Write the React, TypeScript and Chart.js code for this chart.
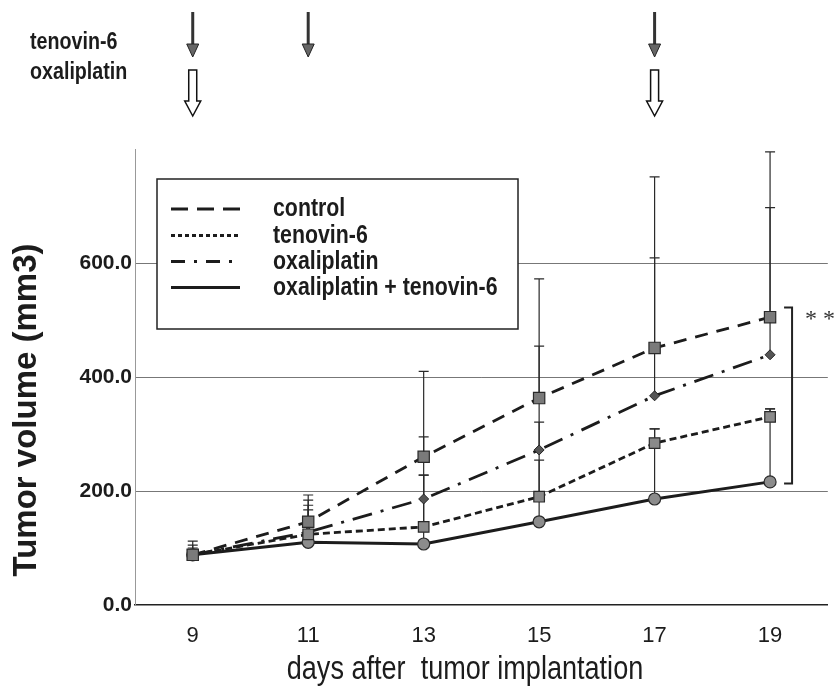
import React, { useEffect, useRef } from 'react';
import { Chart, registerables } from 'chart.js';

Chart.register(...registerables);

// ---- data ----
const days = ['9', '11', '13', '15', '17', '19'];
const control = [88, 146, 260, 363, 451, 505];
const tenovin = [88, 124, 137, 190, 284, 330];
const oxaliplatin = [88, 128, 186, 272, 367, 439];
const combo = [88, 110, 107, 146, 186, 216];
const controlSD = [24, 47, 150, 209, 300, 290];
const tenovinSD = [12, 51, 91, 131, 25, 14];
const oxaliplatinSD = [17, 56, 109, 182, 242, 258];
const comboSD = [8, 57, 121, 108, 123, 128];
const yTickValues = [0, 200, 400, 600];
const legendLabels = ['control', 'tenovin-6', 'oxaliplatin', 'oxaliplatin + tenovin-6'];
const tenovinDoseDays = ['9', '11', '17'];
const oxaliplatinDoseDays = ['9', '17'];
const significanceRange = [522, 213];
const significanceLabel = '* *';
const xTitle = 'days after  tumor implantation';
const yTitle = 'Tumor volume (mm3)';

const FONT = "'Liberation Sans', Arial, sans-serif";
const INK = '#1c1c1c';
const NARROW_SCALE = 0.82;

function narrowText(ctx: any, text: string, x: number, y: number, font: string, align: string) {
  ctx.save();
  ctx.translate(x, y);
  ctx.scale(NARROW_SCALE, 1);
  ctx.font = font;
  ctx.textAlign = align;
  ctx.textBaseline = 'middle';
  ctx.fillText(text, 0, 0);
  ctx.restore();
}

const errorBarPlugin = {
  id: 'errorBars',
  beforeDatasetsDraw(chart: any) {
    const { ctx } = chart;
    const yScale = chart.scales.y;
    ctx.save();
    ctx.strokeStyle = '#2a2a2a';
    ctx.lineWidth = 1.2;
    chart.data.datasets.forEach((ds: any, di: number) => {
      const meta = chart.getDatasetMeta(di);
      meta.data.forEach((el: any, i: number) => {
        const v = ds.data[i];
        const sd = ds.sd[i];
        const yTop = yScale.getPixelForValue(v + sd);
        ctx.beginPath();
        ctx.moveTo(el.x, el.y);
        ctx.lineTo(el.x, yTop);
        ctx.moveTo(el.x - 5, yTop);
        ctx.lineTo(el.x + 5, yTop);
        ctx.stroke();
      });
    });
    ctx.restore();
  },
};

const annotationPlugin = {
  id: 'annotations',
  afterDraw(chart: any) {
    const { ctx } = chart;
    const xScale = chart.scales.x;
    const yScale = chart.scales.y;
    ctx.save();
    ctx.fillStyle = INK;

    // axis titles
    narrowText(ctx, xTitle, 465, 670, `33px ${FONT}`, 'center');
    ctx.save();
    ctx.translate(27, 410);
    ctx.rotate(-Math.PI / 2);
    ctx.font = `bold 33px ${FONT}`;
    ctx.textAlign = 'center';
    ctx.textBaseline = 'middle';
    ctx.fillText(yTitle, 0, 0);
    ctx.restore();

    // top dosing labels
    narrowText(ctx, 'tenovin-6', 30, 42, `bold 24px ${FONT}`, 'left');
    narrowText(ctx, 'oxaliplatin', 30, 72, `bold 24px ${FONT}`, 'left');

    // tenovin arrows (filled)
    tenovinDoseDays.forEach((d) => {
      const x = xScale.getPixelForValue(days.indexOf(d));
      ctx.strokeStyle = '#333';
      ctx.lineWidth = 3;
      ctx.beginPath();
      ctx.moveTo(x, 12);
      ctx.lineTo(x, 46);
      ctx.stroke();
      ctx.beginPath();
      ctx.moveTo(x - 6, 44);
      ctx.lineTo(x + 6, 44);
      ctx.lineTo(x, 57);
      ctx.closePath();
      ctx.fillStyle = '#666';
      ctx.fill();
      ctx.lineWidth = 1;
      ctx.strokeStyle = '#222';
      ctx.stroke();
    });

    // oxaliplatin arrows (hollow)
    oxaliplatinDoseDays.forEach((d) => {
      const x = xScale.getPixelForValue(days.indexOf(d));
      ctx.beginPath();
      ctx.moveTo(x - 4, 70);
      ctx.lineTo(x + 4, 70);
      ctx.lineTo(x + 4, 101);
      ctx.lineTo(x + 8, 101);
      ctx.lineTo(x, 116);
      ctx.lineTo(x - 8, 101);
      ctx.lineTo(x - 4, 101);
      ctx.closePath();
      ctx.fillStyle = '#fff';
      ctx.fill();
      ctx.lineWidth = 1.5;
      ctx.strokeStyle = '#111';
      ctx.stroke();
    });

    // significance bracket
    const bx = xScale.getPixelForValue(days.length - 1) + 22;
    const by1 = yScale.getPixelForValue(significanceRange[0]);
    const by2 = yScale.getPixelForValue(significanceRange[1]);
    ctx.strokeStyle = '#222';
    ctx.lineWidth = 2;
    ctx.beginPath();
    ctx.moveTo(bx - 8, by1);
    ctx.lineTo(bx, by1);
    ctx.lineTo(bx, by2);
    ctx.lineTo(bx - 8, by2);
    ctx.stroke();
    ctx.fillStyle = '#333';
    ctx.font = `24px 'Liberation Serif', serif`;
    ctx.textAlign = 'left';
    ctx.textBaseline = 'middle';
    ctx.fillText(significanceLabel, bx + 13, by1 + 12);

    // legend box
    const lx = 157, ly = 179, lw = 361, lh = 150;
    ctx.fillStyle = '#fff';
    ctx.fillRect(lx, ly, lw, lh);
    ctx.strokeStyle = '#222';
    ctx.lineWidth = 1.5;
    ctx.strokeRect(lx, ly, lw, lh);
    const rows = [209, 235.5, 261.5, 287.5];
    chart.data.datasets.forEach((ds: any, i: number) => {
      const y = rows[i];
      ctx.save();
      ctx.strokeStyle = INK;
      ctx.lineWidth = 3;
      ctx.setLineDash(ds.legendDash);
      ctx.beginPath();
      ctx.moveTo(171, y);
      ctx.lineTo(240, y);
      ctx.stroke();
      ctx.restore();
      ctx.fillStyle = INK;
      narrowText(ctx, legendLabels[i], 273, y, `bold 26px ${FONT}`, 'left');
    });

    ctx.restore();
  },
};

export default function App() {
  const canvasRef = useRef<HTMLCanvasElement | null>(null);

  useEffect(() => {
    document.body.style.margin = '0';
    const canvas = canvasRef.current;
    if (!canvas) return;
    const chart = new Chart(canvas, {
      type: 'line',
      data: {
        labels: days,
        datasets: [
          {
            label: legendLabels[0],
            data: control,
            sd: controlSD,
            legendDash: [17, 9],
            borderColor: INK,
            borderWidth: 2.8,
            borderDash: [13, 9],
            pointStyle: 'rect',
            pointRadius: 8,
            pointBackgroundColor: '#7a7a7a',
            pointBorderColor: '#2a2a2a',
            pointBorderWidth: 1.2,
            fill: false,
            tension: 0,
          },
          {
            label: legendLabels[1],
            data: tenovin,
            sd: tenovinSD,
            legendDash: [4, 3],
            borderColor: INK,
            borderWidth: 2.8,
            borderDash: [7, 4],
            pointStyle: 'rect',
            pointRadius: 7.5,
            pointBackgroundColor: '#8a8a8a',
            pointBorderColor: '#2a2a2a',
            pointBorderWidth: 1.2,
            fill: false,
            tension: 0,
          },
          {
            label: legendLabels[2],
            data: oxaliplatin,
            sd: oxaliplatinSD,
            legendDash: [14, 9, 3, 9],
            borderColor: INK,
            borderWidth: 2.8,
            borderDash: [20, 9, 3, 9],
            pointStyle: 'rectRot',
            pointRadius: 5,
            pointBackgroundColor: '#555',
            pointBorderColor: '#222',
            pointBorderWidth: 1,
            fill: false,
            tension: 0,
          },
          {
            label: legendLabels[3],
            data: combo,
            sd: comboSD,
            legendDash: [],
            borderColor: INK,
            borderWidth: 3,
            borderDash: [],
            pointStyle: 'circle',
            pointRadius: 6,
            pointBackgroundColor: '#8c8c8c',
            pointBorderColor: '#2a2a2a',
            pointBorderWidth: 1.2,
            fill: false,
            tension: 0,
          },
        ] as any,
      },
      options: {
        animation: false,
        responsive: false,
        maintainAspectRatio: false,
        devicePixelRatio: 1,
        layout: { padding: { left: 0, top: 149, right: 6, bottom: 0 } },
        plugins: {
          legend: { display: false },
          title: { display: false },
          tooltip: { enabled: false },
        },
        scales: {
          x: {
            type: 'category',
            offset: true,
            grid: { display: false, drawTicks: false },
            border: { display: true, color: '#222', width: 1.5 },
            ticks: {
              color: INK,
              font: { family: FONT, size: 22 },
              padding: 18,
            },
            title: { display: false },
            afterFit(scale: any) {
              scale.height = 82;
            },
          },
          y: {
            type: 'linear',
            min: 0,
            max: 800,
            ticks: {
              stepSize: 200,
              color: INK,
              font: { family: FONT, size: 21, weight: 'bold' },
              padding: 3,
              callback: (v: any) => (yTickValues.includes(Number(v)) ? Number(v).toFixed(1) : ''),
            },
            grid: {
              drawTicks: false,
              lineWidth: 1,
              color: (c: any) =>
                c.tick && yTickValues.includes(c.tick.value) && c.tick.value !== 0 ? '#777' : 'rgba(0,0,0,0)',
            },
            border: { display: true, color: '#999', width: 1 },
            title: { display: false },
            afterFit(scale: any) {
              scale.width = 135;
            },
          },
        },
      } as any,
      plugins: [errorBarPlugin, annotationPlugin],
    });
    return () => chart.destroy();
  }, []);

  return (
    <div style={{ position: 'fixed', left: 0, top: 0, width: 837, height: 687, background: '#fff' }}>
      <canvas ref={canvasRef} width={837} height={687} style={{ width: 837, height: 687, display: 'block' }} />
    </div>
  );
}
